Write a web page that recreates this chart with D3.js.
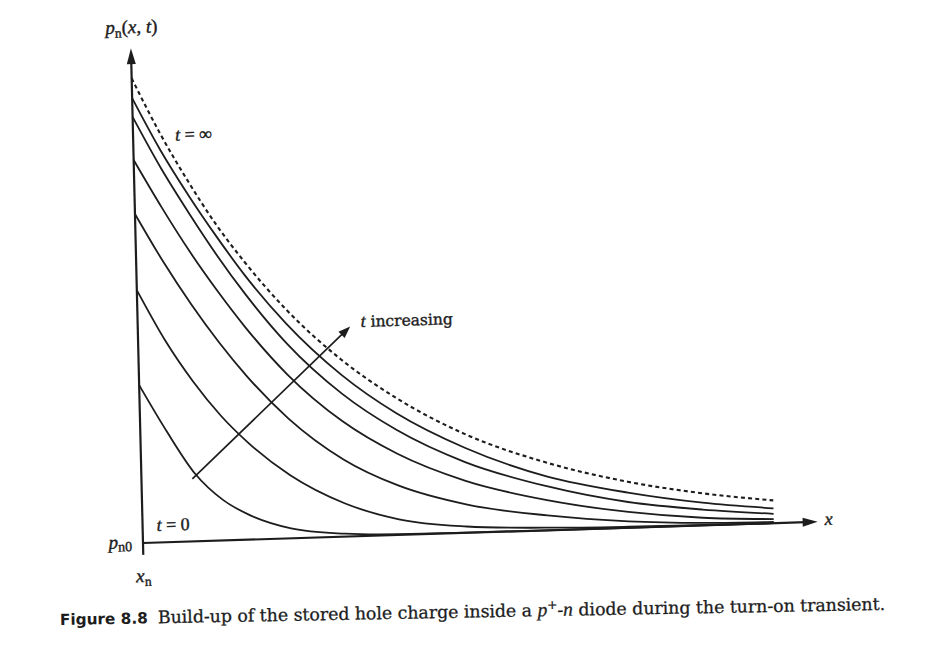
<!DOCTYPE html>
<html><head><meta charset="utf-8">
<script src="https://cdn.jsdelivr.net/npm/d3@7"></script>
<style>html,body{margin:0;padding:0;background:#fff;} svg{display:block}</style>
</head><body>
<svg id="c" width="945" height="653"></svg>
<script>
// Distance from the junction edge x_n (arbitrary units, axis runs 0..10)
const xGrid = [0, 0.4, 0.8, 1.2, 1.6, 2.2, 3.0, 3.8, 4.8, 6.0, 7.2, 8.3, 9.35];
// Excess hole concentration p_n(x,t) - p_n0 (arbitrary units, axis runs 0..10)
const pInf = [9.39, 8.26, 7.27, 6.38, 5.62, 4.63, 3.58, 2.77, 2.00, 1.37, 0.93, 0.65, 0.46]; // t = infinity (dashed)
const p6   = [8.99, 7.92, 6.99, 6.14, 5.35, 4.34, 3.27, 2.46, 1.72, 1.09, 0.71, 0.46, 0.30];
const p5   = [8.61, 7.56, 6.63, 5.76, 4.97, 3.94, 2.89, 2.12, 1.43, 0.89, 0.52, 0.32, 0.19];
const p4   = [7.74, 6.76, 5.85, 5.03, 4.28, 3.31, 2.33, 1.64, 1.05, 0.61, 0.32, 0.155, 0.083];
const p3   = [6.65, 5.67, 4.79, 4.00, 3.30, 2.42, 1.56, 1.00, 0.575, 0.30, 0.128, 0.05, 0.024];
const p2   = [5.11, 4.08, 3.23, 2.52, 1.95, 1.28, 0.675, 0.316, 0.128, 0.052, 0.020, 0.008, 0.003];
const p1   = [3.19, 2.22, 1.36, 0.82, 0.49, 0.20, 0.06, 0.015, 0.003, 0, 0, 0, 0];
// "t increasing" arrow, from / to (data units)
const arrowFrom = [0.754, 1.263];
const arrowTo   = [3.147, 4.24];

const INK = '#1d1d1d';
const svg = d3.select('#c');
svg.append('rect').attr('width',945).attr('height',653).attr('fill','#fff');

// scanned page is slightly rotated: use an affine frame
const g = svg.append('g').attr('transform','matrix(0.9995,-0.0314,0.0244,0.9997,143,543)');
const x = d3.scaleLinear().domain([0,10]).range([0,675]);
const y = d3.scaleLinear().domain([0,10]).range([0,-495]);

// axes
g.append('line').attr('x1',x(0)).attr('y1',y(-0.24)).attr('x2',x(0)).attr('y2',y(10)+12)
  .attr('stroke',INK).attr('stroke-width',2.2);
g.append('path').attr('d',`M${x(0)},${y(10)}L${x(0)-4.5},${y(10)+16}L${x(0)+4.5},${y(10)+16}Z`).attr('fill',INK);
g.append('line').attr('x1',x(0)).attr('y1',y(0)).attr('x2',x(10)-12).attr('y2',y(0))
  .attr('stroke',INK).attr('stroke-width',2.2);
g.append('path').attr('d',`M${x(10)},${y(0)}L${x(10)-15},${y(0)-4.5}L${x(10)-15},${y(0)+4.5}Z`).attr('fill',INK);

// curves
const line = d3.line().x((d,i)=>x(xGrid[i])).y(d=>y(d)).curve(d3.curveMonotoneX);
const series = [
  {v:p1, dash:false},{v:p2, dash:false},{v:p3, dash:false},{v:p4, dash:false},
  {v:p5, dash:false},{v:p6, dash:false},{v:pInf, dash:true}
];
g.selectAll('path.curve').data(series).join('path')
  .attr('class','curve')
  .attr('d',d=>line(d.v))
  .attr('fill','none')
  .attr('stroke',INK)
  .attr('stroke-width',d=>d.dash?2.1:1.8)
  .attr('stroke-dasharray',d=>d.dash?'4,3.2':null);

// t increasing arrow
const ax1 = x(arrowFrom[0]), ay1 = y(arrowFrom[1]), ax2 = x(arrowTo[0]), ay2 = y(arrowTo[1]);
const ang = Math.atan2(ay2-ay1, ax2-ax1);
const hl = 12, hw = 4.5;
const bx = ax2 - hl*Math.cos(ang), by = ay2 - hl*Math.sin(ang);
g.append('line').attr('x1',ax1).attr('y1',ay1).attr('x2',bx+2*Math.cos(ang)).attr('y2',by+2*Math.sin(ang))
  .attr('stroke',INK).attr('stroke-width',1.7);
g.append('path').attr('d',`M${ax2},${ay2}L${bx - hw*Math.sin(ang)},${by + hw*Math.cos(ang)}L${bx + hw*Math.sin(ang)},${by - hw*Math.cos(ang)}Z`).attr('fill',INK);

// labels
const SERIF = "'Liberation Serif','Times New Roman',serif";
function label(px, py, anchor, size, parts){
  const t = g.append('text').attr('x',px).attr('y',py).attr('text-anchor',anchor)
    .attr('font-family',SERIF).attr('font-size',size).attr('fill',INK)
    .attr('stroke',INK).attr('stroke-width',0.4);
  parts.forEach(p=>{
    const s = t.append('tspan').text(p.t);
    if(p.i) s.attr('font-style','italic');
    if(p.fs) s.attr('font-size',p.fs);
    if(p.dy) s.attr('dy',p.dy);
    if(p.ff) s.attr('font-family',p.ff);
  });
  return t;
}
label(1, -510, 'middle', 19, [{t:'p',i:1},{t:'n',fs:13.5,dy:4},{t:'(',dy:-4},{t:'x',i:1},{t:', '},{t:'t',i:1},{t:')'}]);
label(42, -401, 'start', 18, [{t:'t',i:1},{t:' = ∞'}]);
label(223, -209, 'start', 18, [{t:'t',i:1},{t:' increasing',fs:15.5,ff:"'DejaVu Serif',serif"}]);
label(14, -11.6, 'start', 18, [{t:'t',i:1},{t:' = 0'}]);
label(-11, 4.7, 'end', 19, [{t:'p',i:1},{t:'n0',fs:14,dy:3}]);
label(0, 39, 'middle', 19, [{t:'x',i:1},{t:'n',fs:13.5,dy:4}]);
label(682, 3.3, 'start', 18, [{t:'x',i:1}]);

// caption
const cap = svg.append('g').attr('transform','translate(60,625) rotate(-1.05)');
const fig = cap.append('text').attr('x',0).attr('y',0)
  .attr('font-family',"'DejaVu Sans',sans-serif").attr('font-weight','bold').attr('font-size',15)
  .attr('fill',INK).text('Figure 8.8');
const body = cap.append('text').attr('x',98).attr('y',0)
  .attr('font-family',"'DejaVu Serif',serif").attr('font-size',15.5).attr('fill',INK)
  .attr('stroke',INK).attr('stroke-width',0.3);
body.append('tspan').text('Build-up of the stored hole charge inside a ');
body.append('tspan').attr('font-family',SERIF).attr('font-style','italic').attr('font-size','1.12em').text('p');
body.append('tspan').attr('font-size','0.7em').attr('dy',-7).text('+');
body.append('tspan').attr('dy',7).text('-');
body.append('tspan').attr('font-family',SERIF).attr('font-style','italic').attr('font-size','1.12em').text('n');
body.append('tspan').text(' diode during the turn-on transient.');
// fit widths to the reference
function fit(sel, target){
  const w = sel.node().getComputedTextLength();
  const fs = parseFloat(sel.attr('font-size'));
  if (w>0) sel.attr('font-size', (fs*target/w).toFixed(2));
}
fit(fig, 88);
fit(body, 728);
</script>
</body></html>
